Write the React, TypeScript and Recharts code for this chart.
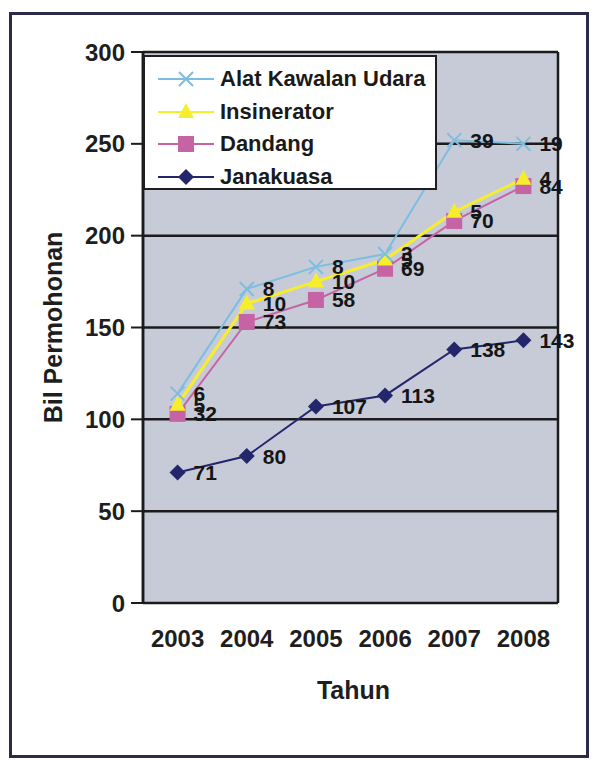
import React from 'react';
import { LineChart, Line, XAxis, YAxis, CartesianGrid, LabelList, Label } from 'recharts';

const years = ['2003', '2004', '2005', '2006', '2007', '2008'];
const janakuasa = [71, 80, 107, 113, 138, 143];
const dandang = [32, 73, 58, 69, 70, 84];
const insinerator = [5, 10, 10, 5, 5, 4];
const alatKawalan = [6, 8, 8, 3, 39, 19];
const yTicks = [0, 50, 100, 150, 200, 250, 300];

const FONT = '"Liberation Sans", Arial, sans-serif';

const C_ALAT = '#7dbde0';
const C_INS = '#f6ee2c';
const C_DAN = '#c663a5';
const C_JANA = '#24266c';

// stacked totals, labels keep the raw value
const data = years.map((y, i) => {
  const j = janakuasa[i];
  const d = j + dandang[i];
  const s = d + insinerator[i];
  const a = s + alatKawalan[i];
  return {
    idx: i,
    year: y,
    jana: j,
    dan: d,
    ins: s,
    alat: a,
    janaRaw: janakuasa[i],
    danRaw: dandang[i],
    insRaw: insinerator[i],
    alatRaw: alatKawalan[i],
  };
});

const boundaryTicks = [-0.5, 0.5, 1.5, 2.5, 3.5, 4.5, 5.5];

function crossDot(color: string) {
  return (p: any) => {
    const { cx, cy, index } = p;
    if (cx == null || cy == null) return <g key={index} />;
    return (
      <path
        key={index}
        d={`M${cx - 7},${cy - 7}L${cx + 7},${cy + 7}M${cx - 7},${cy + 7}L${cx + 7},${cy - 7}`}
        stroke={color}
        strokeWidth={2}
        fill="none"
      />
    );
  };
}

function triangleDot(color: string) {
  return (p: any) => {
    const { cx, cy, index } = p;
    if (cx == null || cy == null) return <g key={index} />;
    return (
      <path
        key={index}
        d={`M${cx},${cy - 9}L${cx + 8},${cy + 6}L${cx - 8},${cy + 6}Z`}
        fill={color}
        stroke="none"
      />
    );
  };
}

function squareDot(color: string) {
  return (p: any) => {
    const { cx, cy, index } = p;
    if (cx == null || cy == null) return <g key={index} />;
    return <rect key={index} x={cx - 8} y={cy - 8} width={16} height={16} fill={color} />;
  };
}

function diamondDot(color: string) {
  return (p: any) => {
    const { cx, cy, index } = p;
    if (cx == null || cy == null) return <g key={index} />;
    return (
      <path
        key={index}
        d={`M${cx},${cy - 8}L${cx + 8},${cy}L${cx},${cy + 8}L${cx - 8},${cy}Z`}
        fill={color}
      />
    );
  };
}

const legendItems = [
  { name: 'Alat Kawalan Udara', color: C_ALAT, marker: 'cross' },
  { name: 'Insinerator', color: C_INS, marker: 'tri' },
  { name: 'Dandang', color: C_DAN, marker: 'square' },
  { name: 'Janakuasa', color: C_JANA, marker: 'diamond' },
];

function LegendMarker({ color, marker }: { color: string; marker: string }) {
  const cx = 28;
  const cy = 10;
  let m: React.ReactNode = null;
  if (marker === 'cross')
    m = (
      <path
        d={`M${cx - 7},${cy - 7}L${cx + 7},${cy + 7}M${cx - 7},${cy + 7}L${cx + 7},${cy - 7}`}
        stroke={color}
        strokeWidth={2}
      />
    );
  if (marker === 'tri') m = <path d={`M${cx},${cy - 9}L${cx + 8},${cy + 6}L${cx - 8},${cy + 6}Z`} fill={color} />;
  if (marker === 'square') m = <rect x={cx - 8} y={cy - 8} width={16} height={16} fill={color} />;
  if (marker === 'diamond') m = <path d={`M${cx},${cy - 8}L${cx + 8},${cy}L${cx},${cy + 8}L${cx - 8},${cy}Z`} fill={color} />;
  return (
    <svg width={56} height={20} style={{ display: 'block' }}>
      <line x1={0} y1={cy} x2={56} y2={cy} stroke={color} strokeWidth={2} />
      {m}
    </svg>
  );
}

const labelStyle = { fontFamily: FONT, fontSize: 21, fontWeight: 700, fill: '#151515' };

export default function App() {
  return (
    <div style={{ position: 'relative', width: 592, height: 763, background: '#fff', overflow: 'hidden' }}>
      <style>{'html,body{margin:0;padding:0;overflow:hidden;}'}</style>
      <div
        style={{
          position: 'absolute',
          left: 9,
          top: 12,
          width: 580,
          height: 746,
          border: '3px solid #2b2a48',
          boxSizing: 'border-box',
        }}
      />
      <div style={{ position: 'absolute', left: 0, top: 0 }}>
        <LineChart width={592} height={763} data={data} margin={{ top: 52, right: 34, bottom: 60, left: 43 }}>
          <CartesianGrid
            xAxisId="b"
            stroke="#1b1b1b"
            strokeWidth={2.5}
            fill="#c7cbd8"
            fillOpacity={1}
          />
          <XAxis
            xAxisId="b"
            type="number"
            dataKey="idx"
            domain={[-0.5, 5.5]}
            ticks={boundaryTicks}
            tick={false}
            tickSize={9}
            height={0}
            axisLine={{ stroke: '#1b1b1b', strokeWidth: 2.5 }}
            tickLine={{ stroke: '#1b1b1b', strokeWidth: 2.5 }}
          />
          <XAxis
            type="number"
            dataKey="idx"
            domain={[-0.5, 5.5]}
            ticks={[0, 1, 2, 3, 4, 5]}
            tickFormatter={(v: number) => years[v]}
            axisLine={false}
            tickLine={false}
            tickSize={6}
            tickMargin={21}
            height={100}
            tick={{ fontFamily: FONT, fontSize: 24, fontWeight: 700, fill: '#1e1e1e' }}
          >
            <Label
              value="Tahun"
              position="insideBottom"
              offset={4}
              dx={3}
              style={{ fontFamily: FONT, fontSize: 25, fontWeight: 700, fill: '#1e1e1e' }}
            />
          </XAxis>
          <YAxis
            domain={[0, 300]}
            ticks={yTicks}
            width={100}
            tickSize={12}
            tickMargin={6}
            axisLine={{ stroke: '#1b1b1b', strokeWidth: 2.5 }}
            tickLine={{ stroke: '#1b1b1b', strokeWidth: 2 }}
            tick={{ fontFamily: FONT, fontSize: 24, fontWeight: 700, fill: '#1e1e1e' }}
          >
            <Label
              value="Bil Permohonan"
              angle={-90}
              position="center"
              dx={-40}
              style={{ fontFamily: FONT, fontSize: 25, fontWeight: 700, fill: '#1e1e1e' }}
            />
          </YAxis>
          <Line
            dataKey="jana"
            stroke={C_JANA}
            strokeWidth={2}
            dot={diamondDot(C_JANA)}
            isAnimationActive={false}
          >
            <LabelList dataKey="janaRaw" position="right" offset={16} style={labelStyle} />
          </Line>
          <Line
            dataKey="dan"
            stroke={C_DAN}
            strokeWidth={2}
            dot={squareDot(C_DAN)}
            isAnimationActive={false}
          >
            <LabelList dataKey="danRaw" position="right" offset={16} style={labelStyle} />
          </Line>
          <Line
            dataKey="ins"
            stroke={C_INS}
            strokeWidth={3}
            dot={triangleDot(C_INS)}
            isAnimationActive={false}
          >
            <LabelList dataKey="insRaw" position="right" offset={16} style={labelStyle} />
          </Line>
          <Line
            dataKey="alat"
            stroke={C_ALAT}
            strokeWidth={2}
            dot={crossDot(C_ALAT)}
            isAnimationActive={false}
          >
            <LabelList dataKey="alatRaw" position="right" offset={16} style={labelStyle} />
          </Line>
        </LineChart>
      </div>
      <div
        style={{
          position: 'absolute',
          left: 143,
          top: 55,
          width: 294,
          height: 135,
          background: '#fff',
          border: '2px solid #1e1e1e',
          boxSizing: 'border-box',
          paddingTop: 6,
        }}
      >
        {legendItems.map((it) => (
          <div key={it.name} style={{ display: 'flex', alignItems: 'center', height: 32.5, paddingLeft: 13 }}>
            <LegendMarker color={it.color} marker={it.marker} />
            <span
              style={{
                marginLeft: 6,
                fontFamily: FONT,
                fontSize: 22,
                fontWeight: 700,
                color: '#1a1a1a',
                whiteSpace: 'nowrap',
              }}
            >
              {it.name}
            </span>
          </div>
        ))}
      </div>
    </div>
  );
}
